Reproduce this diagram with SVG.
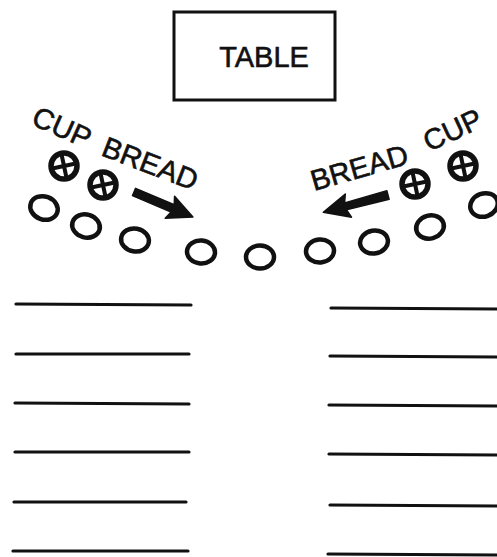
<svg xmlns="http://www.w3.org/2000/svg" width="497" height="557" viewBox="0 0 497 557">
<style>
.lbl{font-family:"Liberation Sans",Arial,sans-serif;font-size:29px;fill:#111;stroke:#111;stroke-width:0.6}
.seat{fill:none;stroke:#111;stroke-width:4.5}
.row{stroke:#111;stroke-width:3.2;stroke-linecap:round}
.box{fill:#fff;stroke:#111;stroke-width:3}
</style>
<defs>
<g id="cup">
<circle r="13" fill="none" stroke="#111" stroke-width="5.5"/>
<path d="M0,-12 V12 M-12,0 H12" stroke="#111" stroke-width="4" transform="rotate(-12)"/>
</g>
</defs>
<rect width="497" height="557" fill="#fff"/>
<g id="table">
<rect class="box" x="174" y="12" width="161" height="88"/>
<text class="lbl" x="264" y="67" text-anchor="middle" font-size="26">TABLE</text>
</g>
<g id="labels">
<text class="lbl" transform="translate(30,124) rotate(24)">CUP</text>
<text class="lbl" transform="translate(100,155) rotate(21)">BREAD</text>
<text class="lbl" transform="translate(314,191) rotate(-16)">BREAD</text>
<text class="lbl" transform="translate(429,152) rotate(-25)">CUP</text>
</g>
<g id="elements">
<use href="#cup" x="64" y="166"/>
<use href="#cup" x="103" y="185"/>
<use href="#cup" x="415" y="184"/>
<use href="#cup" x="463" y="166"/>
</g>
<g id="seats">
<ellipse class="seat" cx="44" cy="208" rx="14" ry="11.5" transform="rotate(20 44 208)"/>
<ellipse class="seat" cx="86" cy="226" rx="14" ry="11.5" transform="rotate(15 86 226)"/>
<ellipse class="seat" cx="135" cy="240" rx="14" ry="11.5" transform="rotate(10 135 240)"/>
<ellipse class="seat" cx="201" cy="252" rx="14" ry="11.5" transform="rotate(5 201 252)"/>
<ellipse class="seat" cx="260" cy="257" rx="14" ry="11.5"/>
<ellipse class="seat" cx="320" cy="251" rx="14" ry="11.5" transform="rotate(-5 320 251)"/>
<ellipse class="seat" cx="374" cy="242" rx="14" ry="11.5" transform="rotate(-10 374 242)"/>
<ellipse class="seat" cx="430" cy="227" rx="14" ry="11.5" transform="rotate(-15 430 227)"/>
<ellipse class="seat" cx="484" cy="205" rx="14" ry="11.5" transform="rotate(-20 484 205)"/>
</g>
<g id="connectors">
<path d="M0,-4 L42,-4 L39,-12 L64,0 L39,12 L42,4 L0,4 Z" fill="#111" stroke="#111" stroke-width="1.5" stroke-linejoin="round" transform="translate(134,192) rotate(23)"/>
<path d="M0,-4.5 L44,-3.5 L41,-12 L67,0 L41,12 L44,3.5 L0,4.5 Z" fill="#111" stroke="#111" stroke-width="1.5" stroke-linejoin="round" transform="translate(388,195) rotate(165)"/>
</g>
<g id="rows">
<line class="row" x1="16" y1="304" x2="191" y2="305"/>
<line class="row" x1="16" y1="354" x2="189" y2="354"/>
<line class="row" x1="15" y1="403" x2="189" y2="404"/>
<line class="row" x1="15" y1="452" x2="189" y2="452"/>
<line class="row" x1="14" y1="502" x2="186" y2="502"/>
<line class="row" x1="13" y1="551" x2="188" y2="551"/>
<line class="row" x1="331" y1="308" x2="497" y2="309"/>
<line class="row" x1="330" y1="356" x2="497" y2="357"/>
<line class="row" x1="329" y1="405" x2="497" y2="406"/>
<line class="row" x1="329" y1="454" x2="497" y2="455"/>
<line class="row" x1="330" y1="505" x2="497" y2="506"/>
<line class="row" x1="328" y1="554" x2="497" y2="555"/>
</g>
</svg>
